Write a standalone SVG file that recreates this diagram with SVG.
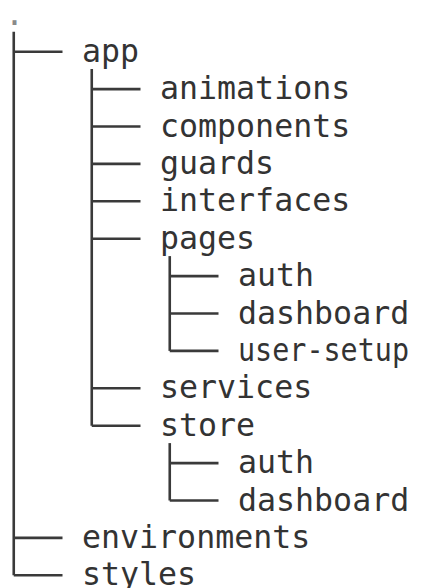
<svg xmlns="http://www.w3.org/2000/svg" width="430" height="588" viewBox="0 0 430 588">
  <style>
    .name { font-family: "DejaVu Sans Mono", "Liberation Mono", monospace; font-size: 31.6px; fill: #333333; }
    .root { fill: #8a8a8a; }
    .tree { stroke: #3a3a3a; stroke-width: 2.6; fill: none; stroke-linecap: butt; }
  </style>
  <rect width="430" height="588" fill="#ffffff"/>

  <!-- tree lines: verticals per level, then one elbow per entry -->
  <g id="connectors" class="tree">
    <path d="M13.75 31.7 V575.3"/>
    <path d="M91.75 69.1 V425.7"/>
    <path d="M169.75 256.1 V350.9"/>
    <path d="M169.75 443.1 V500.5"/>

    <path d="M13.75 51.7 H62.5"/>
    <path d="M91.75 89.1 H140.5"/>
    <path d="M91.75 126.5 H140.5"/>
    <path d="M91.75 163.9 H140.5"/>
    <path d="M91.75 201.3 H140.5"/>
    <path d="M91.75 238.7 H140.5"/>
    <path d="M169.75 276.1 H218.5"/>
    <path d="M169.75 313.5 H218.5"/>
    <path d="M169.75 350.9 H218.5"/>
    <path d="M91.75 388.3 H140.5"/>
    <path d="M91.75 425.7 H140.5"/>
    <path d="M169.75 463.1 H218.5"/>
    <path d="M169.75 500.5 H218.5"/>
    <path d="M13.75 537.9 H62.5"/>
    <path d="M13.75 575.3 H62.5"/>
  </g>

  <g id="root"><text class="name root" x="5" y="25">.</text></g>
  <g id="app"><text class="name" x="82" y="61.7">app</text></g>
  <g id="app-animations"><text class="name" x="160" y="99.1">animations</text></g>
  <g id="app-components"><text class="name" x="160" y="136.5">components</text></g>
  <g id="app-guards"><text class="name" x="160" y="173.9">guards</text></g>
  <g id="app-interfaces"><text class="name" x="160" y="211.3">interfaces</text></g>
  <g id="app-pages"><text class="name" x="160" y="248.7">pages</text></g>
  <g id="pages-auth"><text class="name" x="238" y="286.1">auth</text></g>
  <g id="pages-dashboard"><text class="name" x="238" y="323.5">dashboard</text></g>
  <g id="pages-user-setup"><text class="name" x="238" y="360.9" textLength="171" lengthAdjust="spacingAndGlyphs">user-setup</text></g>
  <g id="app-services"><text class="name" x="160" y="398.3">services</text></g>
  <g id="app-store"><text class="name" x="160" y="435.7">store</text></g>
  <g id="store-auth"><text class="name" x="238" y="473.1">auth</text></g>
  <g id="store-dashboard"><text class="name" x="238" y="510.5">dashboard</text></g>
  <g id="environments"><text class="name" x="82" y="547.9">environments</text></g>
  <g id="styles"><text class="name" x="82" y="585.3">styles</text></g>
</svg>
